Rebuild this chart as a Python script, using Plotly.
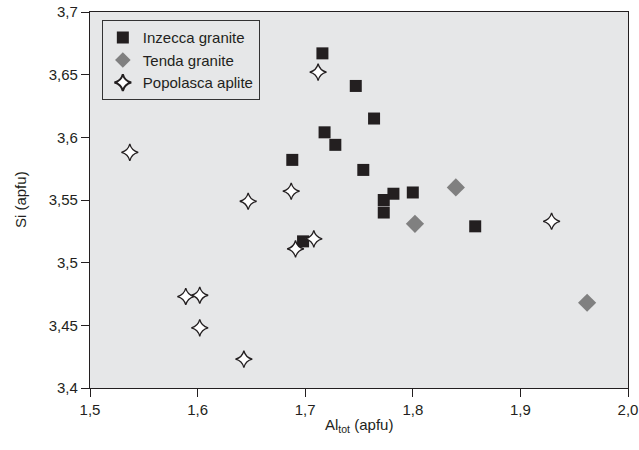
import plotly.graph_objects as go

# Inzecca granite
inz_x = [1.716, 1.747, 1.764, 1.718, 1.728, 1.688, 1.754, 1.782, 1.773, 1.773, 1.800, 1.858, 1.698]
inz_y = [3.667, 3.641, 3.615, 3.604, 3.594, 3.582, 3.574, 3.555, 3.550, 3.540, 3.556, 3.529, 3.517]

# Tenda granite
ten_x = [1.840, 1.802, 1.962]
ten_y = [3.560, 3.531, 3.468]

# Popolasca aplite
pop_x = [1.712, 1.537, 1.687, 1.647, 1.708, 1.691, 1.589, 1.602, 1.602, 1.643, 1.929]
pop_y = [3.652, 3.588, 3.557, 3.549, 3.519, 3.511, 3.473, 3.474, 3.448, 3.423, 3.533]

names = ["Inzecca granite", "Tenda granite", "Popolasca aplite"]

x_ticks = [1.5, 1.6, 1.7, 1.8, 1.9, 2.0]
y_ticks = [3.4, 3.45, 3.5, 3.55, 3.6, 3.65, 3.7]

font = "Liberation Sans, Arial, sans-serif"
ink = "#231f20"
bg = "#e6e7e8"

fig = go.Figure()
fig.add_trace(go.Scatter(x=inz_x, y=inz_y, mode="markers", name=names[0],
                         marker=dict(symbol="square", size=12, color=ink, line=dict(width=0))))
fig.add_trace(go.Scatter(x=ten_x, y=ten_y, mode="markers", name=names[1],
                         marker=dict(symbol="diamond", size=14, color="#808080", line=dict(width=0))))
fig.add_trace(go.Scatter(x=pop_x, y=pop_y, mode="markers", name=names[2],
                         marker=dict(symbol="star-diamond", size=12, color="white",
                                     line=dict(width=1.3, color=ink))))

fig.update_layout(
    width=639, height=450,
    margin=dict(l=90, r=11, t=12, b=62, autoexpand=False),
    paper_bgcolor="white", plot_bgcolor=bg,
    separators=",.",
    font=dict(family=font, size=15, color=ink),
    showlegend=True,
    legend=dict(x=0.022, y=0.978, xanchor="left", yanchor="top",
                bgcolor=bg, bordercolor="#333333", borderwidth=1,
                font=dict(size=15, color=ink), itemsizing="constant",
                tracegroupgap=0),
    annotations=[
        dict(text="Al<sub>tot</sub> (apfu)", xref="paper", yref="paper",
             x=0.5, y=-0.1, xanchor="center", yanchor="middle",
             showarrow=False, font=dict(size=15, color=ink)),
        dict(text="Si (apfu)", xref="paper", yref="paper",
             x=-0.13, y=0.5, xanchor="center", yanchor="middle", textangle=-90,
             showarrow=False, font=dict(size=15, color=ink)),
    ],
)
fig.update_xaxes(range=[1.5, 2.0], tickvals=x_ticks, tickformat=".1f", automargin=False,
                 showgrid=False, zeroline=False, showline=True, linecolor=ink, linewidth=1.2,
                 mirror=True, ticks="outside", ticklen=8, tickcolor=ink, tickwidth=1)
fig.update_yaxes(range=[3.4, 3.7], tickvals=y_ticks, automargin=False,
                 showgrid=False, zeroline=False, showline=True, linecolor=ink, linewidth=1.2,
                 mirror=True, ticks="outside", ticklen=8, tickcolor=ink, tickwidth=1)

fig.write_html("out.html", config={"displayModeBar": False},
               post_script="document.body.style.margin='0';document.body.style.padding='0';")
